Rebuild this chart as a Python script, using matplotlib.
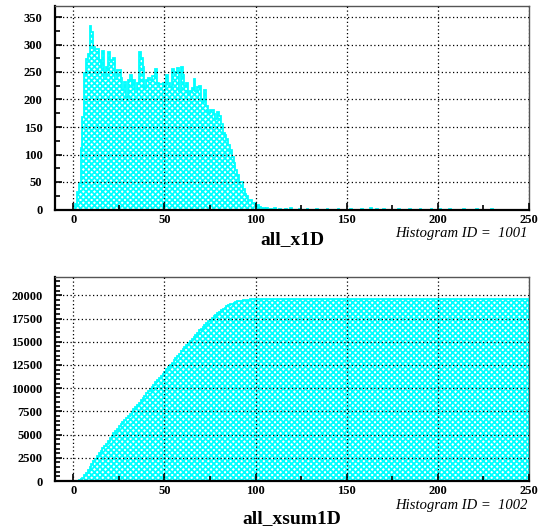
import numpy as np
import matplotlib
matplotlib.use("Agg")
import matplotlib.pyplot as plt
from matplotlib.ticker import MultipleLocator

plt.rcParams["font.family"] = ["Liberation Serif", "DejaVu Serif"]
plt.rcParams["hatch.linewidth"] = 1.3

# 1-unit bins, counts for x = 0 .. 104
main_counts = [
    0, 10, 32, 48, 111, 168, 248, 274, 283, 333,
    322, 296, 292, 291, 271, 260, 288, 238, 259, 286,
    272, 271, 276, 237, 253, 253, 240, 218, 232, 205,
    235, 245, 225, 236, 213, 230, 286, 275, 260, 220,
    236, 240, 235, 243, 242, 255, 230, 228, 228, 230,
    225, 245, 230, 222, 255, 250, 250, 258, 215, 260,
    245, 225, 230, 210, 215, 220, 237, 215, 222, 225,
    200, 195, 218, 188, 175, 180, 180, 174, 165, 178,
    170, 155, 140, 135, 128, 118, 108, 96, 84, 72,
    63, 50, 50, 38, 29, 24, 18, 17, 12, 11,
    7, 8, 4, 3, 2,
]
# sparse tail beyond the main peak
tail_x = [106, 108, 110, 113, 116, 119, 124, 128, 133, 139, 145, 152,
          158, 163, 166, 170, 178, 184, 190, 196, 201, 206, 214, 221, 229]
tail_counts = [2, 1, 2, 1, 1, 2, 1, 1, 1, 1, 1, 1,
               1, 2, 1, 1, 1, 1, 1, 1, 1, 1, 1, 1, 1]

x_min, x_max = -10, 250
edges = np.arange(x_min, x_max + 1, 1)
counts = np.zeros(len(edges) - 1)
counts[0 - x_min:0 - x_min + len(main_counts)] = main_counts
for tx, tc in zip(tail_x, tail_counts):
    counts[tx - x_min] = tc
cumulative = np.cumsum(counts)

panels = [
    dict(values=counts, ylim=370, major=50, minor=25, title="all_x1D",
         hid="1001", id_off=24.5, title_off=30),
    dict(values=cumulative, ylim=21970, major=2500, minor=500, title="all_xsum1D",
         hid="1002", id_off=24.5, title_off=38),
]

W, H = 538, 532
fig = plt.figure(figsize=(W / 100, H / 100), dpi=100)
boxes = [(55, 6, 529, 209.5), (55, 277, 529, 481)]

for p, (l, t, r, b) in zip(panels, boxes):
    ax = fig.add_axes([l / W, 1 - b / H, (r - l) / W, (b - t) / H])
    ax_h = b - t
    ax.stairs(p["values"], edges, fill=True, facecolor="white",
              edgecolor="#00ffff", hatch="xxxxxx", linewidth=0, zorder=1)
    ax.stairs(p["values"], edges, fill=False, color="#00ffff",
              linewidth=1.3, zorder=2)
    ax.set_xlim(x_min, x_max)
    ax.set_ylim(0, p["ylim"])
    ax.xaxis.set_major_locator(MultipleLocator(50))
    ax.xaxis.set_minor_locator(MultipleLocator(25))
    ax.yaxis.set_major_locator(MultipleLocator(p["major"]))
    ax.yaxis.set_minor_locator(MultipleLocator(p["minor"]))
    ax.grid(True, which="major", color="black", linestyle=(0, (1, 2)),
            linewidth=0.9, zorder=3)
    ax.set_axisbelow(False)
    ax.tick_params(which="both", direction="in", top=False, right=False,
                   labelsize=9, width=1.2)
    ax.tick_params(which="major", length=5)
    ax.tick_params(which="minor", length=3.5)
    ax.tick_params(axis="y", pad=9)
    ax.tick_params(axis="x", pad=3)
    for lab in ax.get_xticklabels() + ax.get_yticklabels():
        lab.set_fontweight("bold")
    for side in ("left", "bottom"):
        ax.spines[side].set_linewidth(1.6)
    for side in ("top", "right"):
        ax.spines[side].set_linewidth(1.0)
        ax.spines[side].set_color("#555555")
    ax.text(0.998, -p["id_off"] / ax_h, "Histogram ID =  " + p["hid"],
            transform=ax.transAxes, ha="right", va="center",
            fontsize=10.5, style="italic")
    ax.text(0.5, -p["title_off"] / ax_h, p["title"], transform=ax.transAxes,
            ha="center", va="center", fontsize=14, fontweight="bold")

fig.savefig("out.png", dpi=100)
